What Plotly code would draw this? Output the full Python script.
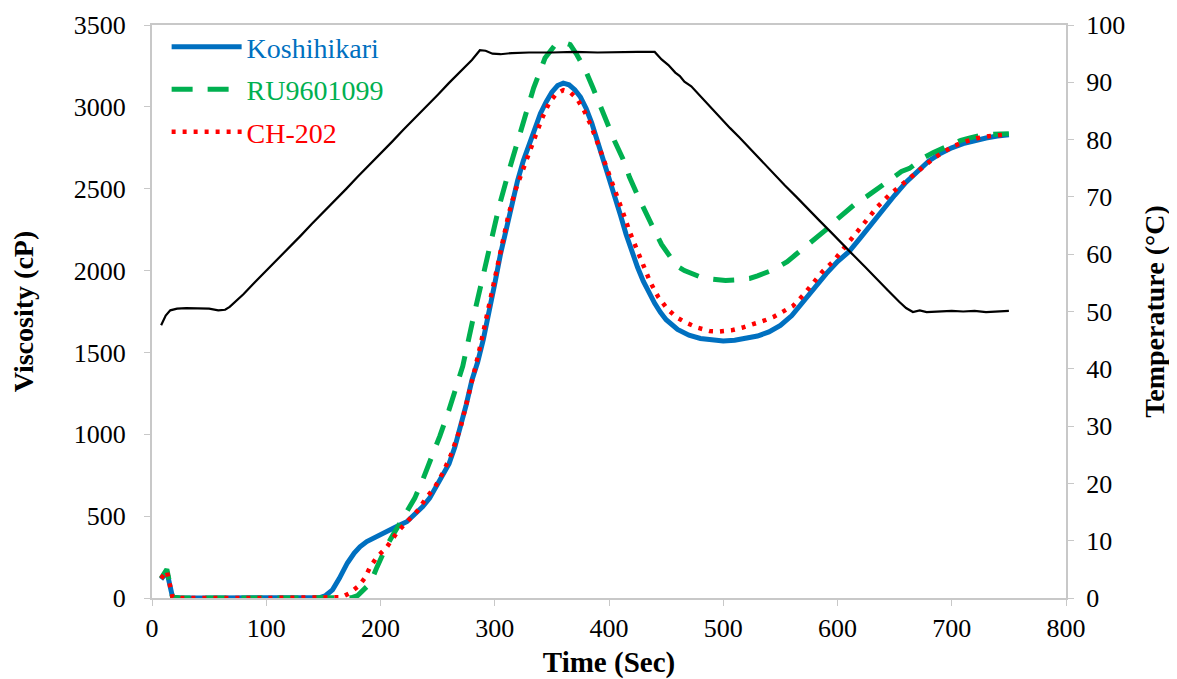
import plotly.graph_objects as go

# Koshihikari viscosity (cP)
kos_t = [8, 13, 18, 25, 50, 100, 140, 147, 152, 158, 164, 171, 177, 182, 188, 194, 200, 208, 215, 223,
         230, 237, 243, 249, 255, 260, 265, 270, 275, 280, 285, 290, 295, 300, 305, 310, 315, 320, 325,
         330, 335, 340, 345, 350, 355, 360, 365, 370, 375, 380, 385, 390, 395, 400, 405, 410, 415, 420,
         425, 430, 435, 440, 445, 450, 460, 470, 480, 490, 500, 510, 520, 530, 540, 550, 560, 570, 580,
         590, 600, 610, 620, 630, 640, 650, 660, 670, 680, 690, 700, 710, 720, 730, 740, 750]
kos_v = [115, 160, 5, 0, 0, 0, 0, 3, 15, 50, 120, 214, 275, 313, 345, 368, 390, 417, 440, 466,
         510, 558, 610, 681, 750, 820, 920, 1040, 1180, 1330, 1440, 1580, 1740, 1920, 2100, 2260, 2420, 2550, 2670,
         2770, 2870, 2960, 3030, 3090, 3130, 3145, 3135, 3105, 3060, 2990, 2900, 2790, 2690, 2580, 2460, 2340, 2220, 2110,
         2020, 1935, 1860, 1800, 1745, 1700, 1640, 1605, 1585, 1575, 1570, 1575, 1585, 1600, 1625, 1665, 1725, 1810, 1900,
         1980, 2055, 2115, 2200, 2290, 2380, 2460, 2540, 2610, 2670, 2715, 2750, 2775, 2795, 2810, 2822, 2830]

# RU9601099 viscosity (cP)
ru_t = [8, 13, 18, 25, 100, 150, 175, 180, 185, 191, 197, 205, 211, 217, 223, 230, 237, 245, 252, 260,
        266, 272, 281, 290, 297, 304, 313, 324, 334, 344, 352, 360, 366, 372, 379, 386, 392, 398, 405, 412,
        418, 425, 432, 439, 446, 452, 459, 466, 474, 481, 488, 495, 502, 510, 516, 523, 530, 537, 544, 550,
        556, 563, 570, 576, 582, 590, 599, 608, 616, 626, 635, 643, 650, 656, 663, 670, 677, 684, 692, 700,
        708, 716, 725, 735, 745, 750]
ru_v = [120, 175, 5, 0, 0, 0, 2, 15, 45, 90, 190, 313, 386, 455, 521, 610, 723, 860, 990, 1150,
        1280, 1416, 1704, 1968, 2195, 2397, 2624, 2869, 3115, 3298, 3370, 3395, 3380, 3317, 3230, 3115, 3010, 2912, 2790, 2685,
        2570, 2459, 2350, 2256, 2160, 2100, 2030, 2000, 1975, 1958, 1950, 1943, 1940, 1943, 1947, 1952, 1968, 1985, 2005, 2030,
        2054, 2095, 2135, 2165, 2195, 2250, 2310, 2360, 2410, 2455, 2502, 2545, 2580, 2605, 2624, 2660, 2695, 2722, 2747, 2772,
        2795, 2810, 2826, 2832, 2835, 2836]

# CH-202 viscosity (cP)
ch_t = [8, 13, 18, 25, 100, 160, 166, 173, 181, 186, 191, 197, 205, 215, 223, 232, 241, 248, 255, 262,
        270, 276, 282, 288, 294, 300, 306, 312, 318, 324, 330, 336, 342, 348, 354, 360, 366, 372, 378, 384,
        390, 396, 401, 407, 413, 418, 424, 430, 436, 443, 451, 459, 468, 478, 488, 497, 507, 517, 527, 536,
        544, 552, 561, 570, 578, 587, 596, 605, 616, 626, 635, 645, 655, 665, 675, 684, 694, 703, 713, 722,
        732, 741, 750]
ch_v = [120, 165, 5, 0, 0, 0, 5, 30, 74, 120, 190, 251, 306, 405, 460, 530, 620, 681, 770, 880,
        1040, 1200, 1380, 1560, 1760, 1970, 2160, 2340, 2490, 2610, 2720, 2830, 2940, 3030, 3080, 3102, 3090, 3050, 2980, 2890,
        2780, 2670, 2563, 2450, 2340, 2238, 2130, 2030, 1931, 1840, 1766, 1715, 1680, 1650, 1631, 1628, 1635, 1652, 1672, 1695,
        1717, 1745, 1784, 1850, 1920, 1995, 2054, 2130, 2230, 2318, 2390, 2460, 2520, 2580, 2640, 2685, 2730, 2765, 2790, 2808,
        2820, 2828, 2833]

# Temperature profile (°C)
temp_t = [8, 12, 16, 22, 30, 40, 50, 58, 64, 68, 80, 90, 100, 110, 120, 130, 140, 150, 160, 170,
          180, 190, 200, 210, 220, 230, 240, 250, 260, 270, 280, 287, 292, 298, 305, 315, 330, 350, 370, 390,
          410, 425, 440, 446, 452, 458, 462, 466, 472, 478, 486, 496, 506, 514, 524, 534, 544, 554, 564, 574,
          584, 594, 604, 614, 624, 634, 644, 654, 660, 666, 672, 678, 690, 700, 710, 720, 730, 740, 750]
temp_v = [47.6, 49.3, 50.2, 50.5, 50.6, 50.5, 50.5, 50.2, 50.3, 50.8, 53.0, 55.1, 57.1, 59.1, 61.2, 63.2, 65.3, 67.3, 69.4, 71.4,
          73.5, 75.5, 77.6, 79.6, 81.7, 83.7, 85.8, 87.8, 89.9, 91.9, 93.9, 95.6, 95.5, 95.0, 94.9, 95.1, 95.2, 95.2, 95.3, 95.2,
          95.3, 95.3, 95.3, 94.0, 93.0, 91.7, 91.1, 90.1, 89.3, 88.0, 86.2, 84.0, 82.0, 80.4, 78.3, 76.2, 74.0, 72.0, 70.0, 67.9,
          65.9, 63.9, 61.8, 59.8, 57.8, 55.7, 53.7, 51.7, 50.6, 49.9, 50.2, 49.9, 50.0, 50.1, 50.0, 50.1, 49.9, 50.0, 50.1]

FONT = "Liberation Serif"
AXIS_GREY = "#c8c8c8"

fig = go.Figure()

fig.add_trace(go.Scatter(
    x=kos_t, y=kos_v, mode="lines", legendgroup="a",
    name='<span style="color:#0070c0">Koshihikari</span>',
    line=dict(color="#0070c0", width=5),
))
fig.add_trace(go.Scatter(
    x=ru_t, y=ru_v, mode="lines", legendgroup="b",
    name='<span style="color:#00b050">RU9601099</span>',
    line=dict(color="#00b050", width=5, dash="21px,15px"),
))
fig.add_trace(go.Scatter(
    x=ch_t, y=ch_v, mode="lines", legendgroup="c",
    name='<span style="color:#ff0000">CH-202</span>',
    line=dict(color="#ff0000", width=4.5, dash="4px,7px"),
))
# temperature on the right axis
fig.add_trace(go.Scatter(
    x=temp_t, y=temp_v, mode="lines", yaxis="y2", showlegend=False,
    line=dict(color="black", width=2.2),
))

# page body adds an 8px offset, so the figure is 8px smaller than the window
fig.update_layout(
    width=1169,
    height=671,
    margin=dict(l=144, r=111, t=17, b=81, autoexpand=False),
    paper_bgcolor="white",
    plot_bgcolor="white",
    font=dict(family=FONT, size=26, color="black"),
    showlegend=True,
    legend=dict(
        x=0.016, y=1.005, xanchor="left", yanchor="top",
        font=dict(family=FONT, size=28),
        bgcolor="rgba(0,0,0,0)",
        itemwidth=70,
        tracegroupgap=3,
    ),
    xaxis=dict(
        range=[0, 800], dtick=100, tick0=0, automargin=False,
        showline=True, linecolor=AXIS_GREY, linewidth=2, mirror=True,
        ticks="outside", ticklen=6, tickcolor=AXIS_GREY,
        showgrid=False, zeroline=False,
        title=dict(text="<b>Time (Sec)</b>", font=dict(size=29), standoff=11),
    ),
    yaxis=dict(
        range=[0, 3500], dtick=500, tick0=0, automargin=False,
        showline=True, linecolor=AXIS_GREY, linewidth=2,
        ticks="outside", ticklen=6, tickcolor=AXIS_GREY, ticklabelstandoff=13,
        showgrid=False, zeroline=False,
        title=dict(text="<b>Viscosity (cP)</b>", font=dict(size=28), standoff=38),
    ),
    yaxis2=dict(
        range=[0, 100], dtick=10, tick0=0, automargin=False,
        overlaying="y", side="right",
        showline=True, linecolor=AXIS_GREY, linewidth=2,
        ticks="outside", ticklen=6, tickcolor=AXIS_GREY, ticklabelstandoff=7,
        showgrid=False, zeroline=False,
        title=dict(text="<b>Temperature (°C)</b>", font=dict(size=28), standoff=20),
    ),
)

fig.write_html("out.html")
